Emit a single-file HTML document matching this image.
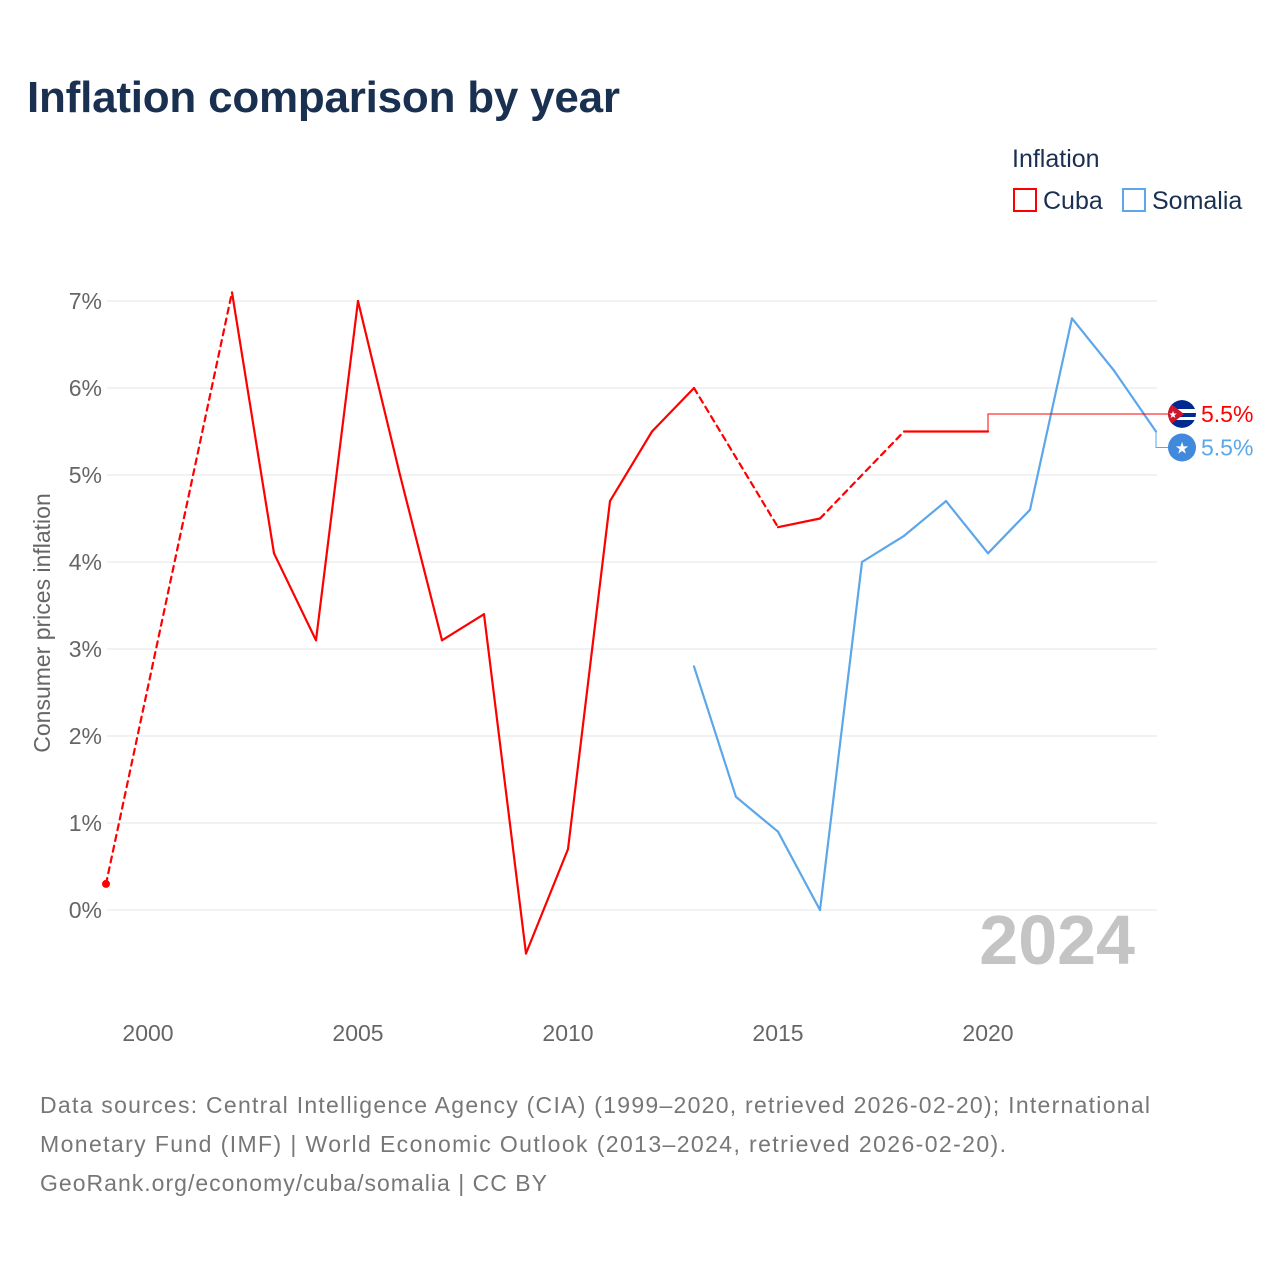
<!DOCTYPE html>
<html><head><meta charset="utf-8"><style>
body{margin:0;background:#fff;font-family:"Liberation Sans",sans-serif;}
svg text{font-family:"Liberation Sans",sans-serif;}
</style></head><body>
<svg width="1280" height="1280" xmlns="http://www.w3.org/2000/svg">
<defs><clipPath id="fc"><circle cx="1182" cy="414" r="14"/></clipPath></defs>
<text x="27" y="112" font-size="44" font-weight="bold" fill="#1a3050" textLength="593">Inflation comparison by year</text>
<g>
<text x="1012" y="167" font-size="25" fill="#1a3050">Inflation</text>
<g><rect x="1014" y="189" width="22" height="22" fill="none" stroke="#f00" stroke-width="2"/><text x="1043" y="209" font-size="25" fill="#1a3050">Cuba</text></g>
<g><rect x="1123" y="189" width="22" height="22" fill="none" stroke="#5ba7ea" stroke-width="2"/><text x="1152" y="209" font-size="25" fill="#1a3050">Somalia</text></g>
</g>
<g id="grid"></g>
<g id="axes"></g>
<text transform="translate(50,623) rotate(-90)" text-anchor="middle" font-size="23" fill="#666">Consumer prices inflation</text>
<text x="1135" y="964" text-anchor="end" font-size="70" font-weight="bold" fill="#c4c4c4">2024</text>
<g id="series"></g>
<g font-size="23" fill="#777">
<text x="40" y="1113" textLength="1110">Data sources: Central Intelligence Agency (CIA) (1999–2020, retrieved 2026-02-20); International</text>
<text x="40" y="1152" textLength="966">Monetary Fund (IMF) | World Economic Outlook (2013–2024, retrieved 2026-02-20).</text>
<text x="40" y="1191" textLength="507">GeoRank.org/economy/cuba/somalia | CC BY</text>
</g>
</svg>
<script>
const yTicks=[0,1,2,3,4,5,6,7];
const xTicks=[2000,2005,2010,2015,2020];
const cubaYears=[1999,2002,2003,2004,2005,2006,2007,2008,2009,2010,2011,2012,2013,2015,2016,2018,2019,2020];
const cubaValues=[0.3,7.1,4.1,3.1,7.0,5.0,3.1,3.4,-0.5,0.7,4.7,5.5,6.0,4.4,4.5,5.5,5.5,5.5];
const somaliaYears=[2013,2014,2015,2016,2017,2018,2019,2020,2021,2022,2023,2024];
const somaliaValues=[2.8,1.3,0.9,0.0,4.0,4.3,4.7,4.1,4.6,6.8,6.2,5.5];
const NS="http://www.w3.org/2000/svg";
const X=y=>148+(y-2000)*42;
const Y=v=>910-v*87;
function mk(t,a,p){const e=document.createElementNS(NS,t);for(const k in a)e.setAttribute(k,a[k]);p.appendChild(e);return e;}
const grid=document.getElementById('grid'),axes=document.getElementById('axes'),ser=document.getElementById('series');
yTicks.forEach(v=>{
const l=mk('line',{x1:107,x2:1157,y1:Y(v),y2:Y(v),stroke:'#e6e6e6','stroke-width':1},grid);


const t=mk('text',{x:102,y:Y(v)+8,'text-anchor':'end','font-size':23,fill:'#666'},axes);t.textContent=v+'%';


});
xTicks.forEach(v=>{
const t=mk('text',{x:X(v),y:1041,'text-anchor':'middle','font-size':23,fill:'#666'},axes);t.textContent=v;


});
function draw(years,vals,color,name){
for(let i=1;i<years.length;i++){
const gap=years[i]-years[i-1]>1;
const l=mk('line',{x1:X(years[i-1]),y1:Y(vals[i-1]),x2:X(years[i]),y2:Y(vals[i]),stroke:color,'stroke-width':2.2,'stroke-linecap':'round'},ser);
if(gap)l.setAttribute('stroke-dasharray','6,5');


}
}
draw(cubaYears,cubaValues,'#f00','cuba-line');
draw(somaliaYears,somaliaValues,'#5ba7ea','somalia-line');
const d=mk('circle',{cx:X(cubaYears[0]),cy:Y(cubaValues[0]),r:4,fill:'#f00'},ser);


const cl=cubaValues.length-1, sl=somaliaValues.length-1;
const cx=X(cubaYears[cl]),cy=Y(cubaValues[cl]),sx=X(somaliaYears[sl]),sy=Y(somaliaValues[sl]);
const cLab=414, sLab=sy+16;
const p1=mk('polyline',{points:`${cx},${cy} ${cx},${cLab} 1168,${cLab}`,fill:'none',stroke:'#f00','stroke-width':1},ser);


const p2=mk('polyline',{points:`${sx},${sy} ${sx},${sLab} 1168,${sLab}`,fill:'none',stroke:'#5ba7ea','stroke-width':1},ser);


const f1=mk('g',{'clip-path':'url(#fc)'},ser);


mk('circle',{cx:1182,cy:cLab,r:14,fill:'#002a8f'},f1);
mk('rect',{x:1166,y:cLab-5,width:32,height:4,fill:'#fff'},f1);
mk('rect',{x:1166,y:cLab+3,width:32,height:3,fill:'#fff'},f1);
mk('path',{d:`M1166,${cLab-14} L1184,${cLab} L1166,${cLab+14} Z`,fill:'#cf142b'},f1);
const s1=mk('text',{x:1173,y:cLab+4,'text-anchor':'middle','font-size':10,fill:'#fff'},f1);s1.textContent='★';
const f2=mk('g',{},ser);


mk('circle',{cx:1182,cy:sLab,r:14,fill:'#4189dd'},f2);
const st=mk('text',{x:1182,y:sLab+6,'text-anchor':'middle','font-size':16,fill:'#fff'},f2);st.textContent='★';
const t1=mk('text',{x:1201,y:cLab+8,'font-size':23,fill:'#f00'},ser);t1.textContent=cubaValues[cl].toFixed(1)+'%';


const t2=mk('text',{x:1201,y:sLab+8,'font-size':23,fill:'#5ba7ea'},ser);t2.textContent=somaliaValues[sl].toFixed(1)+'%';


</script>
</body></html>
